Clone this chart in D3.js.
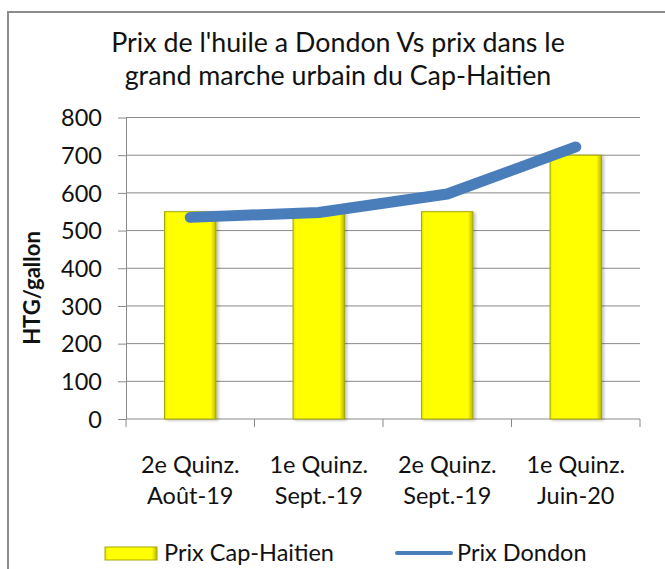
<!DOCTYPE html>
<html>
<head>
<meta charset="utf-8">
<script src="https://cdn.jsdelivr.net/npm/d3@7"></script>
<style>
  html, body { margin: 0; padding: 0; background: #fff; }
  svg { display: block; }
  text { font-family: Lato, "Open Sans", sans-serif; fill: #111; }
</style>
</head>
<body>
<svg id="chart" width="665" height="569"></svg>
<script>
const categories = [
  ["2e Quinz.", "Août-19"],
  ["1e Quinz.", "Sept.-19"],
  ["2e Quinz.", "Sept.-19"],
  ["1e Quinz.", "Juin-20"]
];
const prixCapHaitien = [550, 550, 550, 700];
const prixDondon = [535, 548, 597, 722];
const yTicks = [0, 100, 200, 300, 400, 500, 600, 700, 800];
const titleLines = ["Prix de l'huile a Dondon Vs prix dans le", "grand marche urbain du Cap-Haitien"];
const yLabel = "HTG/gallon";
const seriesNames = ["Prix Cap-Haitien", "Prix Dondon"];

const svg = d3.select("#chart");
const plot = { left: 126, right: 640, top: 117.5, bottom: 419 };

const defs = svg.append("defs");
const g1 = defs.append("linearGradient").attr("id", "barGrad").attr("x1", 0).attr("x2", 1).attr("y1", 0).attr("y2", 0);
g1.append("stop").attr("offset", "0%").attr("stop-color", "#e6e600");
g1.append("stop").attr("offset", "6%").attr("stop-color", "#ffff00");
g1.append("stop").attr("offset", "90%").attr("stop-color", "#ffff00");
g1.append("stop").attr("offset", "100%").attr("stop-color", "#b8b800");
const sh = defs.append("filter").attr("id", "shadow").attr("x", "-20%").attr("y", "-5%").attr("width", "150%").attr("height", "115%");
sh.append("feDropShadow").attr("dx", 2).attr("dy", 1).attr("stdDeviation", 1.5).attr("flood-color", "#000").attr("flood-opacity", 0.25);

// outer border
svg.append("rect").attr("x", 8).attr("y", 12).attr("width", 700).attr("height", 700)
  .attr("fill", "none").attr("stroke", "#8c8c8c").attr("stroke-width", 2);

const x = d3.scaleBand().domain(d3.range(categories.length)).range([plot.left, plot.right]).paddingInner(0).paddingOuter(0);
const y = d3.scaleLinear().domain([0, 800]).range([plot.bottom, plot.top]);

// gridlines
svg.append("g").selectAll("line").data(yTicks.filter(d => d > 0)).join("line")
  .attr("x1", plot.left).attr("x2", plot.right)
  .attr("y1", d => y(d)).attr("y2", d => y(d))
  .attr("stroke", "#8a8a8a").attr("stroke-width", 1);

// y axis
const yAxis = d3.axisLeft(y).tickValues(yTicks).tickSize(8).tickPadding(16).tickSizeOuter(0);
const ya = svg.append("g").attr("transform", `translate(${plot.left},0)`).call(yAxis);
ya.select(".domain").attr("stroke", "#8a8a8a");
ya.selectAll(".tick line").attr("stroke", "#8a8a8a");
ya.selectAll(".tick text").style("font-size", "23.5px").attr("fill", "#111").attr("dy", "0.35em");

// x axis
const xa = svg.append("g").attr("transform", `translate(0,${plot.bottom})`);
xa.append("line").attr("x1", plot.left).attr("x2", plot.right).attr("y1", 0).attr("y2", 0).attr("stroke", "#8a8a8a");
const bounds = d3.range(categories.length + 1).map(i => i < categories.length ? x(i) : x(i - 1) + x.bandwidth());
xa.selectAll("line.tk").data(bounds).join("line").attr("class", "tk")
  .attr("x1", d => d).attr("x2", d => d).attr("y1", 0).attr("y2", 8).attr("stroke", "#8a8a8a");
const xl = xa.selectAll("text.cat").data(categories).join("text").attr("class", "cat")
  .attr("x", (d, i) => x(i) + x.bandwidth() / 2).attr("y", 54)
  .attr("text-anchor", "middle").style("font-size", "23.5px");
xl.selectAll("tspan").data(d => d).join("tspan")
  .attr("x", function() { return d3.select(this.parentNode).attr("x"); })
  .attr("dy", (d, i) => i === 0 ? 0 : 31).text(d => d);

// bars
const bw = x.bandwidth() / 2.5;
svg.append("g").selectAll("rect").data(prixCapHaitien).join("rect")
  .attr("x", (d, i) => x(i) + (x.bandwidth() - bw) / 2)
  .attr("y", d => y(d)).attr("width", bw).attr("height", d => y(0) - y(d))
  .attr("fill", "url(#barGrad)").attr("stroke", "#a6a600").attr("stroke-width", 1)
  .attr("filter", "url(#shadow)");

// line
const line = d3.line().x((d, i) => x(i) + x.bandwidth() / 2).y(d => y(d));
svg.append("path").datum(prixDondon).attr("d", line)
  .attr("fill", "none").attr("stroke", "#4a7ebb").attr("stroke-width", 11)
  .attr("stroke-linecap", "round").attr("stroke-linejoin", "round");

// title
const t = svg.append("text").attr("text-anchor", "middle").style("font-size", "26.8px");
t.selectAll("tspan").data(titleLines).join("tspan")
  .attr("x", 338).attr("y", (d, i) => 52 + i * 33).text(d => d);

// y label
svg.append("text").attr("transform", "translate(40,288) rotate(-90)")
  .attr("text-anchor", "middle").style("font-size", "22px").style("font-weight", "bold").text(yLabel);

// legend
const lg = svg.append("g");
lg.append("rect").attr("x", 105).attr("y", 547).attr("width", 52).attr("height", 13)
  .attr("fill", "url(#barGrad)").attr("stroke", "#a6a600");
lg.append("text").attr("x", 164).attr("y", 561).style("font-size", "23.5px").text(seriesNames[0]);
lg.append("line").attr("x1", 397).attr("x2", 451).attr("y1", 553).attr("y2", 553)
  .attr("stroke", "#4a7ebb").attr("stroke-width", 4).attr("stroke-linecap", "round");
lg.append("text").attr("x", 457).attr("y", 561).style("font-size", "23.5px").text(seriesNames[1]);
</script>
</body>
</html>
